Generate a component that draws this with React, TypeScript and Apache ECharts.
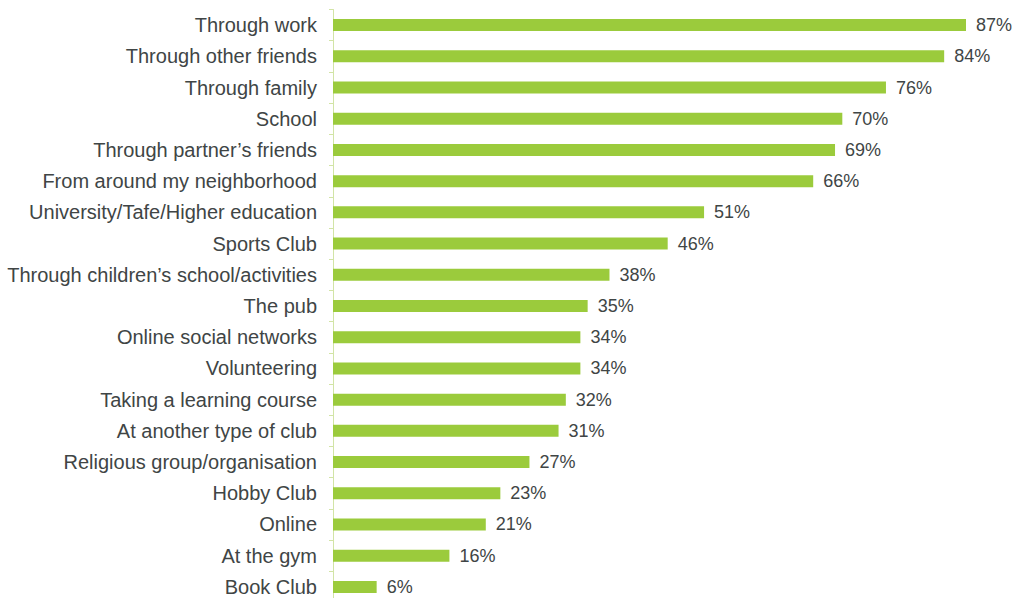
import React, { useEffect, useRef } from "react";
import * as echarts from "echarts";

const categories = [
  "Through work",
  "Through other friends",
  "Through family",
  "School",
  "Through partner\u2019s friends",
  "From around my neighborhood",
  "University/Tafe/Higher education",
  "Sports Club",
  "Through children\u2019s school/activities",
  "The pub",
  "Online social networks",
  "Volunteering",
  "Taking a learning course",
  "At another type of club",
  "Religious group/organisation",
  "Hobby Club",
  "Online",
  "At the gym",
  "Book Club",
];

const values = [87, 84, 76, 70, 69, 66, 51, 46, 38, 35, 34, 34, 32, 31, 27, 23, 21, 16, 6];

export default function App() {
  const ref = useRef<HTMLDivElement>(null);
  useEffect(() => {
    if (!ref.current) return;
    const chart = echarts.init(ref.current, null, { renderer: "svg" });
    chart.setOption({
      animation: false,
      grid: { left: 333, top: 9.5, width: 680, height: 593, containLabel: false },
      xAxis: {
        type: "value",
        min: 0,
        max: 93.46,
        show: false,
      },
      yAxis: {
        type: "category",
        inverse: true,
        data: categories,
        axisLine: { show: true, lineStyle: { color: "#d2e4a6", width: 1 } },
        axisTick: { show: true, length: 4, lineStyle: { color: "#d2e4a6" } },
        axisLabel: {
          margin: 16,
          color: "#404545",
          fontSize: 20,
          fontFamily: "Liberation Sans, Arial, sans-serif",
        },
        splitLine: { show: false },
      },
      series: [
        {
          type: "bar",
          data: values,
          barWidth: 12,
          itemStyle: { color: "#9bcb3c" },
          label: {
            show: true,
            position: "right",
            distance: 10,
            formatter: "{c}%",
            color: "#404545",
            fontSize: 18,
            fontFamily: "Liberation Sans, Arial, sans-serif",
          },
        },
      ],
    });
    return () => chart.dispose();
  }, []);
  return (
    <div
      ref={ref}
      style={{ position: "fixed", left: 0, top: 0, width: 1013, height: 610, background: "#fff" }}
    />
  );
}
